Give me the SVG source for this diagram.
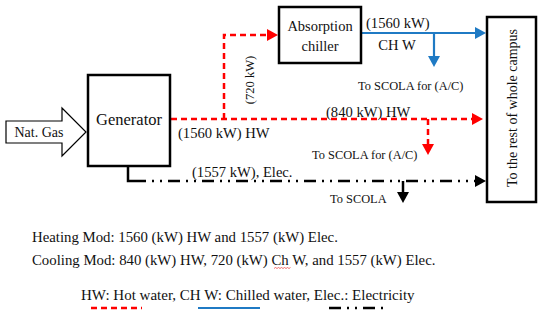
<svg xmlns="http://www.w3.org/2000/svg" width="550" height="320" viewBox="0 0 550 320">
<style>
text{font-family:"Liberation Serif","Times New Roman",serif;fill:#111}
.box{fill:#fff;stroke:#000;stroke-width:2.5}
.hw{fill:none;stroke:#f00;stroke-width:2.5;stroke-dasharray:6 4}
.chw{fill:none;stroke:#1f7ac4;stroke-width:2.2}
.el{fill:none;stroke:#000;stroke-width:2.5;stroke-dasharray:12 6 2 6 2 6}
.lab{font-size:14.6px}
.sc{font-size:12.4px}
</style>
<defs>
<marker id="ar" viewBox="0 0 11 12" refX="4" refY="6" markerWidth="11" markerHeight="12" markerUnits="userSpaceOnUse" orient="auto"><path d="M0,0L11,6L0,12z" fill="#f00"/></marker>
<marker id="ab" viewBox="0 0 11 12" refX="4" refY="6" markerWidth="11" markerHeight="12" markerUnits="userSpaceOnUse" orient="auto"><path d="M0,0L11,6L0,12z" fill="#1f7ac4"/></marker>
<marker id="ak" viewBox="0 0 11 12" refX="4" refY="6" markerWidth="11" markerHeight="12" markerUnits="userSpaceOnUse" orient="auto"><path d="M0,0L11,6L0,12z" fill="#000"/></marker>
</defs>
<rect width="550" height="320" fill="#fff"/>
<g id="connectors">
<path class="hw" d="M171,119H476" marker-end="url(#ar)"/>
<path class="hw" d="M224,119V35H271" marker-end="url(#ar)"/>
<path class="hw" d="M428,119V148" marker-end="url(#ar)"/>
<path class="chw" d="M362,33H479" marker-end="url(#ab)"/>
<path class="chw" d="M434,33V60" marker-end="url(#ab)"/>
<path fill="none" stroke="#000" stroke-width="2.5" d="M128,167V181H134"/>
<path class="el" d="M134,181H479" marker-end="url(#ak)"/>
<path fill="none" stroke="#000" stroke-width="2.5" d="M403,181V196" marker-end="url(#ak)"/>
</g>
<g id="natgas">
<path d="M6,121H62V108L86,132L62,156V143H6z" fill="#fff" stroke="#000" stroke-width="1.2"/>
<text x="39" y="137" font-size="14" text-anchor="middle">Nat. Gas</text>
</g>
<g id="generator">
<rect class="box" x="88" y="75" width="82" height="91"/>
<text x="129" y="125" font-size="16.5" text-anchor="middle">Generator</text>
</g>
<g id="chiller">
<rect class="box" x="279" y="7" width="82" height="56"/>
<text x="320" y="31" font-size="14.5" text-anchor="middle">Absorption</text>
<text x="320" y="51" font-size="14.5" text-anchor="middle">chiller</text>
</g>
<g id="campus">
<rect class="box" x="487" y="17" width="49" height="185"/>
<text transform="translate(517,108) rotate(-90)" font-size="14" text-anchor="middle">To the rest of whole campus</text>
</g>
<g id="labels">
<text transform="translate(254,80) rotate(-90)" font-size="12.6" text-anchor="middle">(720 kW)</text>
<text class="lab" x="178" y="138">(1560 kW) HW</text>
<text class="lab" x="366" y="28">(1560 kW)</text>
<text class="lab" x="397" y="50" text-anchor="middle">CH W</text>
<text class="sc" x="358" y="90">To SCOLA for (A/C)</text>
<text class="lab" x="326" y="117">(840 kW) HW</text>
<text class="sc" x="312" y="159">To SCOLA for (A/C)</text>
<text class="lab" x="192" y="177">(1557 kW), Elec.</text>
<text class="sc" x="330" y="203">To SCOLA</text>
</g>
<g id="notes">
<text x="32" y="242" font-size="14.8">Heating Mod: 1560 (kW) HW and 1557 (kW) Elec.</text>
<text x="32" y="265" font-size="14.8">Cooling Mod: 840 (kW) HW, 720 (kW) Ch W, and 1557 (kW) Elec.</text>
<path d="M274,268.5l1.5,-1l1.5,1l1.5,-1l1.5,1l1.5,-1l1.5,1l1.5,-1l1.5,1l1.5,-1l1.5,1l1.5,-1" fill="none" stroke="#e33" stroke-width="0.7"/>
<text x="81" y="300" font-size="15">HW: Hot water, CH W: Chilled water, Elec.: Electricity</text>
<path d="M91,308H142" fill="none" stroke="#f00" stroke-width="2.5" stroke-dasharray="6 4"/>
<path d="M198,308H260" fill="none" stroke="#1f7ac4" stroke-width="2.2"/>
<path d="M329,308H388" fill="none" stroke="#000" stroke-width="2.5" stroke-dasharray="12 6 2 6 2 6"/>
</g>
</svg>
